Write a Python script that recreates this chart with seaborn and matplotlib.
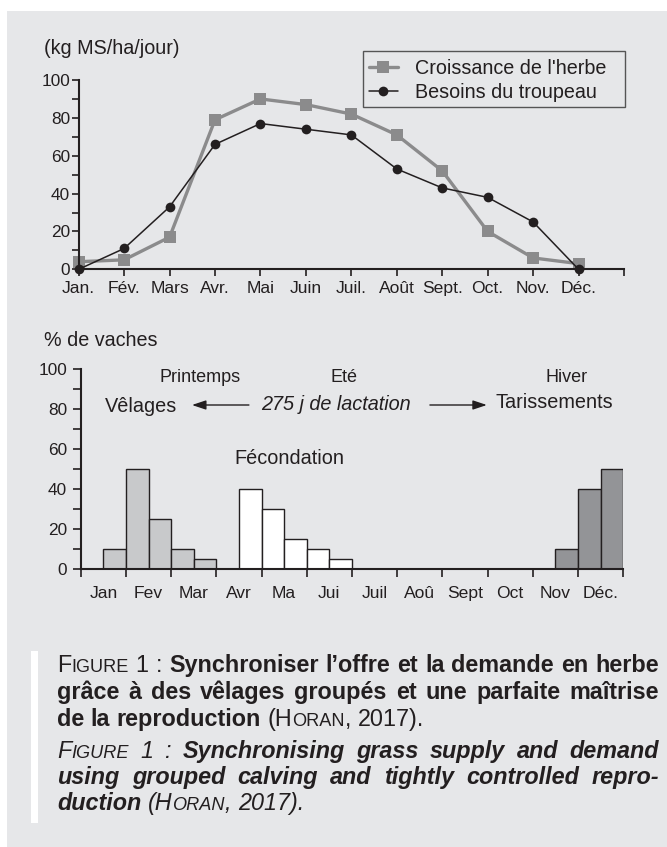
import numpy as np
import pandas as pd
import matplotlib
matplotlib.use("Agg")
import matplotlib.pyplot as plt
import seaborn as sns
from matplotlib.font_manager import FontProperties
from matplotlib.patches import Rectangle

# ---------------- data ----------------
months_top = ["Jan.", "Fév.", "Mars", "Avr.", "Mai", "Juin", "Juil.", "Août",
              "Sept.", "Oct.", "Nov.", "Déc."]
croissance = [4, 5, 17, 79, 90, 87, 82, 71, 52, 20, 6, 3]
besoins = [0, 11, 33, 66, 77, 74, 71, 53, 43, 38, 25, 0]
label_croissance = "Croissance de l'herbe"
label_besoins = "Besoins du troupeau"

months_bottom = ["Jan", "Fev", "Mar", "Avr", "Ma", "Jui", "Juil", "Aoû",
                 "Sept", "Oct", "Nov", "Déc."]
# bars by half-month index (0 = first half of January ... 23 = second half of December)
velages_half = [1, 2, 3, 4, 5]
velages_pct = [10, 50, 25, 10, 5]
fecond_half = [7, 8, 9, 10, 11]
fecond_pct = [40, 30, 15, 10, 5]
tariss_half = [21, 22, 23]
tariss_pct = [10, 40, 50]
groups = ["Vêlages", "Fécondation", "Tarissements"]

caption_lines = [
    ([("F", "r"), ("IGURE", "rs"), (" 1 :", "r"),
      (" Synchroniser l’offre et la demande en herbe", "b")], True),
    ([("grâce à des vêlages groupés et une parfaite maîtrise", "b")], True),
    ([("de la reproduction", "b"), (" (H", "r"), ("ORAN", "rs"), (", 2017).", "r")], False),
    ([("F", "i"), ("IGURE", "is"), (" 1 :", "i"),
      (" Synchronising grass supply and demand", "bi")], True),
    ([("using grouped calving and tightly controlled repro-", "bi")], True),
    ([("duction", "bi"), (" (H", "i"), ("ORAN", "is"), (", 2017).", "i")], False),
]

# ---------------- style ----------------
W, H = 667, 847
PANEL = "#e6e7e9"
DARK = "#231f20"
GREY_LINE = "#8b8b8c"
C_VEL = "#c8c9cb"
C_FEC = "#ffffff"
C_TAR = "#939497"

sns.set_theme(style="ticks")
from matplotlib import font_manager
_names = {f.name for f in font_manager.fontManager.ttflist}
FAM = "Liberation Sans" if "Liberation Sans" in _names else "DejaVu Sans"
plt.rcParams["font.family"] = [FAM, "DejaVu Sans"]
plt.rcParams["text.color"] = DARK


def fx(px):
    return px / W


def fy(py):
    return 1 - py / H


fig = plt.figure(figsize=(W / 100, H / 100), dpi=100, facecolor="white")
fig.add_artist(Rectangle((fx(6.5), 0), 1 - fx(6.5), fy(11), transform=fig.transFigure,
                         facecolor=PANEL, edgecolor="none", zorder=-10))

# ---------------- top chart ----------------
ax1 = fig.add_axes([fx(78.7), fy(269.3), fx(624) - fx(78.7), (269.3 - 80) / H])
ax1.set_facecolor("none")
x_idx = np.arange(len(months_top))
sns.lineplot(x=x_idx, y=croissance, ax=ax1, color=GREY_LINE, lw=2.4, marker="s",
             markersize=8.0, markeredgewidth=0, label=label_croissance, clip_on=False)
sns.lineplot(x=x_idx, y=besoins, ax=ax1, color=DARK, lw=1.1, marker="o",
             markersize=7.0, markeredgewidth=0, label=label_besoins, clip_on=False)
ax1.set_xlim(0, 12)
ax1.set_ylim(0, 100)
ax1.set_xticks(range(13), labels=months_top + [""])
ax1.set_yticks(range(0, 101, 20))
ax1.set_yticks(range(10, 100, 20), minor=True)
ax1.tick_params(axis="both", which="both", direction="out", length=5, width=1.2,
                color=DARK, labelcolor=DARK)
ax1.tick_params(axis="x", labelsize=12.6, pad=3.5)
ax1.tick_params(axis="y", labelsize=12.4, pad=1.2)
ax1.set_xlabel("")
ax1.set_ylabel("")
for s in ["top", "right"]:
    ax1.spines[s].set_visible(False)
for s in ["left", "bottom"]:
    ax1.spines[s].set_linewidth(1.5)
    ax1.spines[s].set_color(DARK)

# legend: frameless legend inside a manually drawn box
fig.add_artist(Rectangle((fx(363), fy(107)), (625.3 - 363) / W, 56 / H,
                         transform=fig.transFigure, facecolor="none",
                         edgecolor="#555555", linewidth=1.0, zorder=5))
leg = ax1.legend(loc="upper left", bbox_to_anchor=(fx(363), fy(53)),
                 bbox_transform=fig.transFigure, frameon=False, borderaxespad=0,
                 fontsize=14.2, handlelength=1.45, handletextpad=0.9, borderpad=0.3,
                 labelspacing=0.25)
for t in leg.get_texts():
    t.set_color(DARK)

fig.text(fx(44), fy(48), "(kg MS/ha/jour)", fontsize=14.2, ha="left", va="center",
         color=DARK)

# ---------------- bottom chart ----------------
ax2 = fig.add_axes([fx(80.8), fy(569), fx(623.1) - fx(80.8), 200 / H])
ax2.set_facecolor("none")
df = pd.DataFrame({
    "half": velages_half + fecond_half + tariss_half,
    "pct": velages_pct + fecond_pct + tariss_pct,
    "group": [groups[0]] * len(velages_half) + [groups[1]] * len(fecond_half)
    + [groups[2]] * len(tariss_half),
})
sns.barplot(data=df, x="half", y="pct", hue="group", order=list(range(24)),
            hue_order=groups, palette={groups[0]: C_VEL, groups[1]: C_FEC, groups[2]: C_TAR},
            dodge=False, width=1, edgecolor=DARK, linewidth=1.0, errorbar=None,
            saturation=1, legend=False, ax=ax2)
ax2.set_xlim(-0.5, 23.5)
ax2.set_ylim(0, 100)
ax2.set_xticks(np.arange(-0.5, 24, 2), labels=[""] * 13)
ax2.set_xticks(np.arange(0.5, 24, 2), labels=months_bottom, minor=True)
ax2.set_yticks(range(0, 101, 20))
ax2.set_yticks(range(10, 100, 20), minor=True)
ax2.tick_params(axis="both", which="both", direction="out", length=5.5, width=1.2,
                color=DARK, labelcolor=DARK)
ax2.tick_params(axis="x", which="minor", length=0, labelsize=12.6, pad=12)
ax2.tick_params(axis="y", labelsize=12.4, pad=4.5)
ax2.set_xlabel("")
ax2.set_ylabel("")
for s in ["top", "right"]:
    ax2.spines[s].set_visible(False)
for s in ["left", "bottom"]:
    ax2.spines[s].set_linewidth(1.5)
    ax2.spines[s].set_color(DARK)

fig.text(fx(44), fy(340), "% de vaches", fontsize=14.2, ha="left", va="center", color=DARK)

ax2.text(4.77, 95.5, "Printemps", fontsize=13, ha="center", va="center", color=DARK)
ax2.text(11.17, 95.5, "Eté", fontsize=13, ha="center", va="center", color=DARK)
ax2.text(21.01, 95.5, "Hiver", fontsize=13, ha="center", va="center", color=DARK)
ax2.text(2.16, 81.5, "Vêlages", fontsize=14.3, ha="center", va="center", color=DARK)
ax2.text(10.79, 82, "275 j de lactation", fontsize=14.3, style="italic", ha="center",
         va="center", color=DARK)
ax2.text(20.44, 83.5, "Tarissements", fontsize=14.3, ha="center", va="center", color=DARK)
ax2.text(8.71, 55, "Fécondation", fontsize=14.3, ha="center", va="center", color=DARK)
arrow_kw = dict(arrowstyle="-|>,head_length=0.6,head_width=0.2", color=DARK, lw=1.0,
                mutation_scale=14, shrinkA=0, shrinkB=0)
ax2.annotate("", xy=(4.42, 82), xytext=(6.94, 82), arrowprops=arrow_kw)
ax2.annotate("", xy=(17.47, 82), xytext=(14.95, 82), arrowprops=arrow_kw)

# ---------------- caption ----------------
fig.add_artist(Rectangle((fx(30.5), fy(823)), 7 / W, (823 - 651) / H,
                         transform=fig.transFigure, facecolor="white", edgecolor="none"))
cap_size = 16.8
small = 0.78
FP = {
    "r": FontProperties(family=FAM, size=cap_size),
    "rs": FontProperties(family=FAM, size=cap_size * small),
    "b": FontProperties(family=FAM, weight="bold", size=cap_size),
    "i": FontProperties(family=FAM, style="italic", size=cap_size),
    "is": FontProperties(family=FAM, style="italic", size=cap_size * small),
    "bi": FontProperties(family=FAM, style="italic", weight="bold", size=cap_size),
}
renderer = fig.canvas.get_renderer()


def text_width(s, fp):
    t = fig.text(0, 0, s, fontproperties=fp)
    w = t.get_window_extent(renderer).width
    t.remove()
    return w


space_w = text_width("x x", FP["r"]) - text_width("xx", FP["r"])
cap_baselines = [672, 699, 726, 758, 784, 810]
x_left, x_right = 57, 659
for (runs, justify), base in zip(caption_lines, cap_baselines):
    words = [[]]
    for txt, st in runs:
        parts = txt.split(" ")
        for k, p in enumerate(parts):
            if k > 0:
                words.append([])
            if p:
                words[-1].append((p, st))
    words = [w for w in words if w]
    widths = [[text_width(p, FP[st]) for p, st in w] for w in words]
    total = sum(sum(w) for w in widths)
    if justify and len(words) > 1:
        gap = max((x_right - x_left - total) / (len(words) - 1), 0.5 * space_w)
    else:
        gap = space_w
    x = x_left
    for w, ws in zip(words, widths):
        for (p, st), pw in zip(w, ws):
            fig.text(fx(x), fy(base), p, fontproperties=FP[st], ha="left",
                     va="baseline", color=DARK)
            x += pw
        x += gap

fig.savefig("out.png", dpi=100, facecolor="white")
